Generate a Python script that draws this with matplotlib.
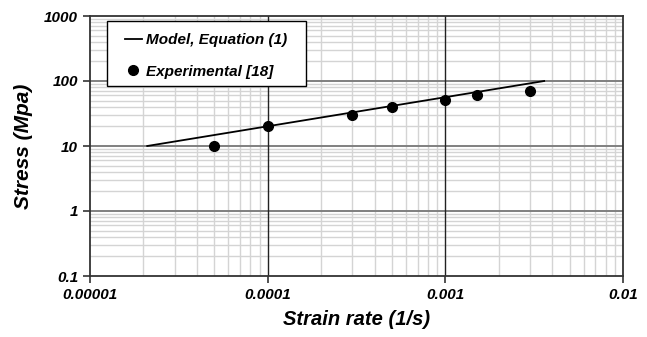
import numpy as np
import matplotlib.pyplot as plt
from matplotlib.patches import Rectangle
from matplotlib.ticker import LogLocator, NullFormatter

# Model line end points (Equation 1)
model_rate = [2.1e-5, 3.6e-3]
model_stress = [10, 100]

# Experimental points [18]
exp_rate = [5e-5, 1e-4, 3e-4, 5e-4, 1e-3, 1.5e-3, 3e-3]
exp_stress = [10, 20, 30, 40, 51, 61, 70]

x_ticks = [1e-5, 1e-4, 1e-3, 1e-2]
x_labels = ["0.00001", "0.0001", "0.001", "0.01"]
y_ticks = [0.1, 1, 10, 100, 1000]
y_labels = ["0.1", "1", "10", "100", "1000"]

plt.rcParams["font.family"] = ["Liberation Sans", "DejaVu Sans"]

fig = plt.figure(figsize=(6.47, 3.37), dpi=100)
ax = fig.add_axes([90 / 647, 1 - 276 / 337, 533 / 647, 260 / 337])

ax.set_xscale("log")
ax.set_yscale("log")
ax.set_xlim(1e-5, 1e-2)
ax.set_ylim(0.1, 1000)

# minor grid, light gray
ax.xaxis.set_minor_locator(LogLocator(base=10, subs=np.arange(2, 10)))
ax.yaxis.set_minor_locator(LogLocator(base=10, subs=np.arange(2, 10)))
ax.xaxis.set_minor_formatter(NullFormatter())
ax.yaxis.set_minor_formatter(NullFormatter())
ax.grid(which="minor", color="#d4d4d4", linewidth=1.0)
ax.set_axisbelow(True)

# major grid on top of the minor one
for yv in y_ticks[1:-1]:
    ax.axhline(yv, color="#808080", linewidth=1.4, zorder=0.8)
for xv in x_ticks[1:-1]:
    ax.axvline(xv, color="#222222", linewidth=1.0, zorder=0.9)

ax.plot(model_rate, model_stress, color="black", linewidth=1.3,
        label="Model, Equation (1)")
ax.plot(exp_rate, exp_stress, "o", color="black", markersize=7,
        linestyle="none", label="Experimental [18]")

ax.set_xticks(x_ticks)
ax.set_xticklabels(x_labels)
ax.set_yticks(y_ticks)
ax.set_yticklabels(y_labels)
ax.tick_params(which="major", direction="out", length=5, width=1.2,
               labelsize=11, color="#333333")
ax.tick_params(which="minor", length=0)
for lab in ax.get_xticklabels() + ax.get_yticklabels():
    lab.set_fontweight("bold")
    lab.set_fontstyle("italic")

for s in ax.spines.values():
    s.set_color("#333333")
    s.set_linewidth(1.3)

ax.set_xlabel("Strain rate (1/s)", fontsize=14.5, fontweight="bold",
              fontstyle="italic", labelpad=6)
ax.set_ylabel("Stress (Mpa)", fontsize=15, fontweight="bold",
              fontstyle="italic", labelpad=8)

# legend box drawn by hand so the side padding can be wider than the top
ax.add_patch(Rectangle((17 / 533, 190 / 260), 199 / 533, 65 / 260,
                       transform=ax.transAxes, facecolor="white",
                       edgecolor="black", linewidth=1.0, zorder=4))
leg = ax.legend(loc="upper left", bbox_to_anchor=(35 / 533, 1 - 17 / 260),
                borderaxespad=0, borderpad=0, frameon=False,
                labelspacing=1.15, handlelength=1.1, handletextpad=0.3,
                prop={"weight": "bold", "style": "italic", "size": 11})
leg.set_zorder(5)

fig.savefig("out.png", dpi=100)
